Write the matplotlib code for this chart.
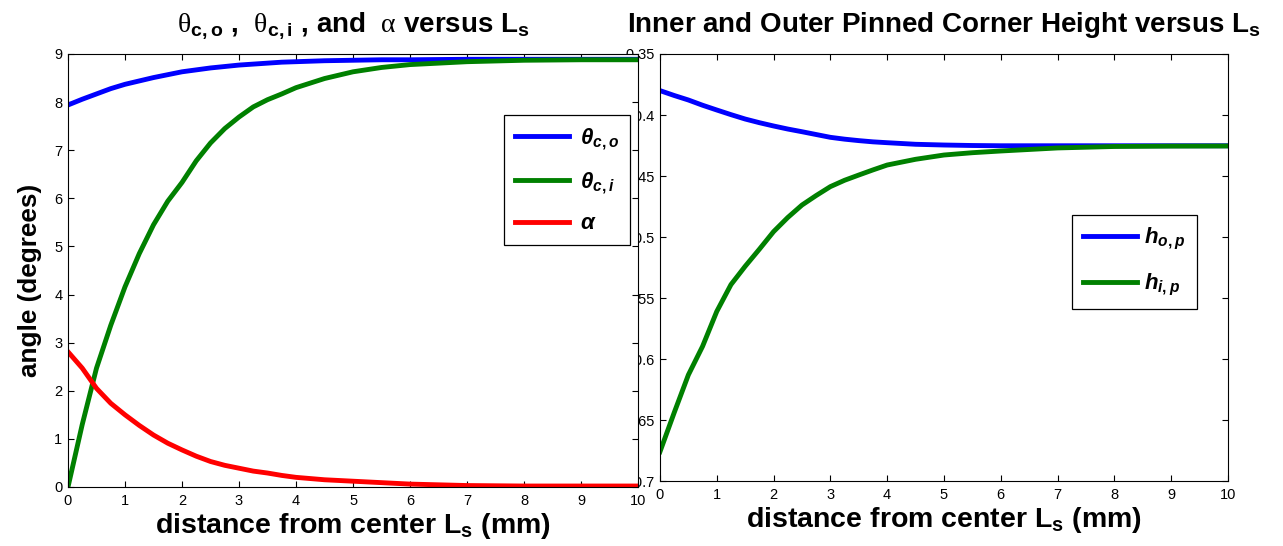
"""Two-panel figure: corner angles and pinned corner heights versus L_s."""
import matplotlib
matplotlib.use('Agg')
import matplotlib.pyplot as plt
from matplotlib.ticker import FuncFormatter, MultipleLocator

# distance from center L_s (mm)
DIST = [0, 0.25, 0.5, 0.75, 1, 1.25, 1.5, 1.75, 2, 2.25, 2.5, 2.75, 3, 3.25,
        3.5, 3.75, 4, 4.5, 5, 5.5, 6, 7, 8, 9, 10]

# left panel, degrees
THETA_CO = [7.94, 8.06, 8.17, 8.28, 8.37, 8.44, 8.51, 8.57, 8.63, 8.67, 8.71,
            8.74, 8.77, 8.79, 8.81, 8.83, 8.84, 8.86, 8.87, 8.88, 8.88, 8.89,
            8.89, 8.89, 8.89]
THETA_CI = [0.0, 1.3, 2.47, 3.36, 4.16, 4.85, 5.45, 5.94, 6.33, 6.78, 7.15,
            7.45, 7.69, 7.9, 8.05, 8.17, 8.3, 8.49, 8.63, 8.72, 8.78, 8.84,
            8.87, 8.88, 8.88]
ALPHA = [2.81, 2.47, 2.05, 1.74, 1.5, 1.28, 1.08, 0.91, 0.77, 0.64, 0.53,
         0.45, 0.39, 0.33, 0.29, 0.24, 0.2, 0.15, 0.12, 0.09, 0.06, 0.03,
         0.02, 0.02, 0.02]

# right panel, pinned corner heights
H_OP = [-0.380, -0.384, -0.3877, -0.392, -0.3959, -0.3997, -0.4033, -0.4063,
        -0.409, -0.4115, -0.4137, -0.416, -0.4183, -0.4198, -0.421, -0.422,
        -0.4227, -0.424, -0.4246, -0.425, -0.4252, -0.4252, -0.4252, -0.4252,
        -0.4252]
H_IP = [-0.676, -0.644, -0.613, -0.5896, -0.561, -0.539, -0.524, -0.510,
        -0.4956, -0.484, -0.4738, -0.466, -0.4587, -0.4535, -0.4492, -0.445,
        -0.441, -0.4363, -0.4328, -0.4309, -0.4295, -0.427, -0.4258, -0.4255,
        -0.4254]

LEFT_TITLE = (r'$\mathsf{\theta}_{\mathbf{c,o}}$ ,  $\mathsf{\theta}_{\mathbf{c,i}}$ , '
              r'and  $\mathsf{\alpha}$ versus L$_{\mathbf{s}}$')
RIGHT_TITLE = r'Inner and Outer Pinned Corner Height versus L$_{\mathbf{s}}$'
XLABEL = r'distance from center L$_{\mathbf{s}}$ (mm)'
YLABEL = 'angle (degrees)'

BLUE = '#0000ff'
GREEN = '#008000'
RED = '#ff0000'

plt.rcParams.update({
    'font.family': 'Liberation Sans',
    'font.size': 10,
    'mathtext.fontset': 'custom',
    'mathtext.rm': 'Liberation Sans:bold',
    'mathtext.bf': 'Liberation Sans:bold',
    'mathtext.it': 'Liberation Sans:italic:bold',
    'mathtext.sf': 'Liberation Serif',
    'axes.linewidth': 0.8,
    'xtick.direction': 'in',
    'ytick.direction': 'in',
    'xtick.top': True,
    'ytick.right': True,
    'xtick.major.size': 4,
    'ytick.major.size': 4,
    'xtick.major.pad': 5,
    'ytick.major.pad': 4,
})


def style_axes(ax):
    ax.set_xlim(0, 10)
    ax.xaxis.set_major_locator(MultipleLocator(1))
    ax.tick_params(labelsize=10.5, colors='black')
    ax.set_xlabel(XLABEL, fontsize=20.5, fontweight='bold', labelpad=2)


fig = plt.figure(figsize=(12.83, 5.46), dpi=100)
fig.patch.set_facecolor('white')

ax2 = fig.add_axes([0.5144, 0.1190, 0.4427, 0.7821])
ax1 = fig.add_axes([0.0530, 0.1081, 0.4443, 0.7930])
ax1.set_zorder(2)   # left panel hides most of the right panel's tick labels
ax2.set_zorder(1)

# left panel
ax1.plot(DIST, THETA_CO, color=BLUE, lw=3.5, label=r'$\theta_{c,o}$')
ax1.plot(DIST, THETA_CI, color=GREEN, lw=3.5, label=r'$\theta_{c,i}$')
ax1.plot(DIST, ALPHA, color=RED, lw=3.5, label=r'$\alpha$')
ax1.set_ylim(0, 9)
ax1.yaxis.set_major_locator(MultipleLocator(1))
style_axes(ax1)
ax1.set_ylabel(YLABEL, fontsize=18.8, fontweight='bold')
ax1.yaxis.set_label_coords(-0.046, 0.478)
ax1.set_title(LEFT_TITLE, fontsize=20, fontweight='bold', pad=16)
leg1 = ax1.legend(loc='upper right', bbox_to_anchor=(0.986, 0.859),
                  borderaxespad=0, fancybox=False, edgecolor='black',
                  framealpha=1, prop={'size': 16}, handlelength=2.4,
                  labelspacing=0.8, handletextpad=0.5, borderpad=0.5)
leg1.get_frame().set_linewidth(0.9)

# right panel
ax2.plot(DIST, H_OP, color=BLUE, lw=3.5, label=r'$h_{o,p}$')
ax2.plot(DIST, H_IP, color=GREEN, lw=3.5, label=r'$h_{i,p}$')
ax2.set_ylim(-0.7, -0.35)
ax2.yaxis.set_major_locator(MultipleLocator(0.05))
ax2.yaxis.set_major_formatter(FuncFormatter(lambda v, p: '%g' % round(v, 2)))
style_axes(ax2)
ax2.set_title(RIGHT_TITLE, fontsize=20, fontweight='bold', pad=16)
leg2 = ax2.legend(loc='upper right', bbox_to_anchor=(0.945, 0.623),
                  borderaxespad=0, fancybox=False, edgecolor='black',
                  framealpha=1, prop={'size': 16}, handlelength=2.4,
                  labelspacing=0.9, handletextpad=0.35, borderpad=0.5)
leg2.get_frame().set_linewidth(0.9)

fig.savefig('out.png', dpi=100, facecolor='white')
